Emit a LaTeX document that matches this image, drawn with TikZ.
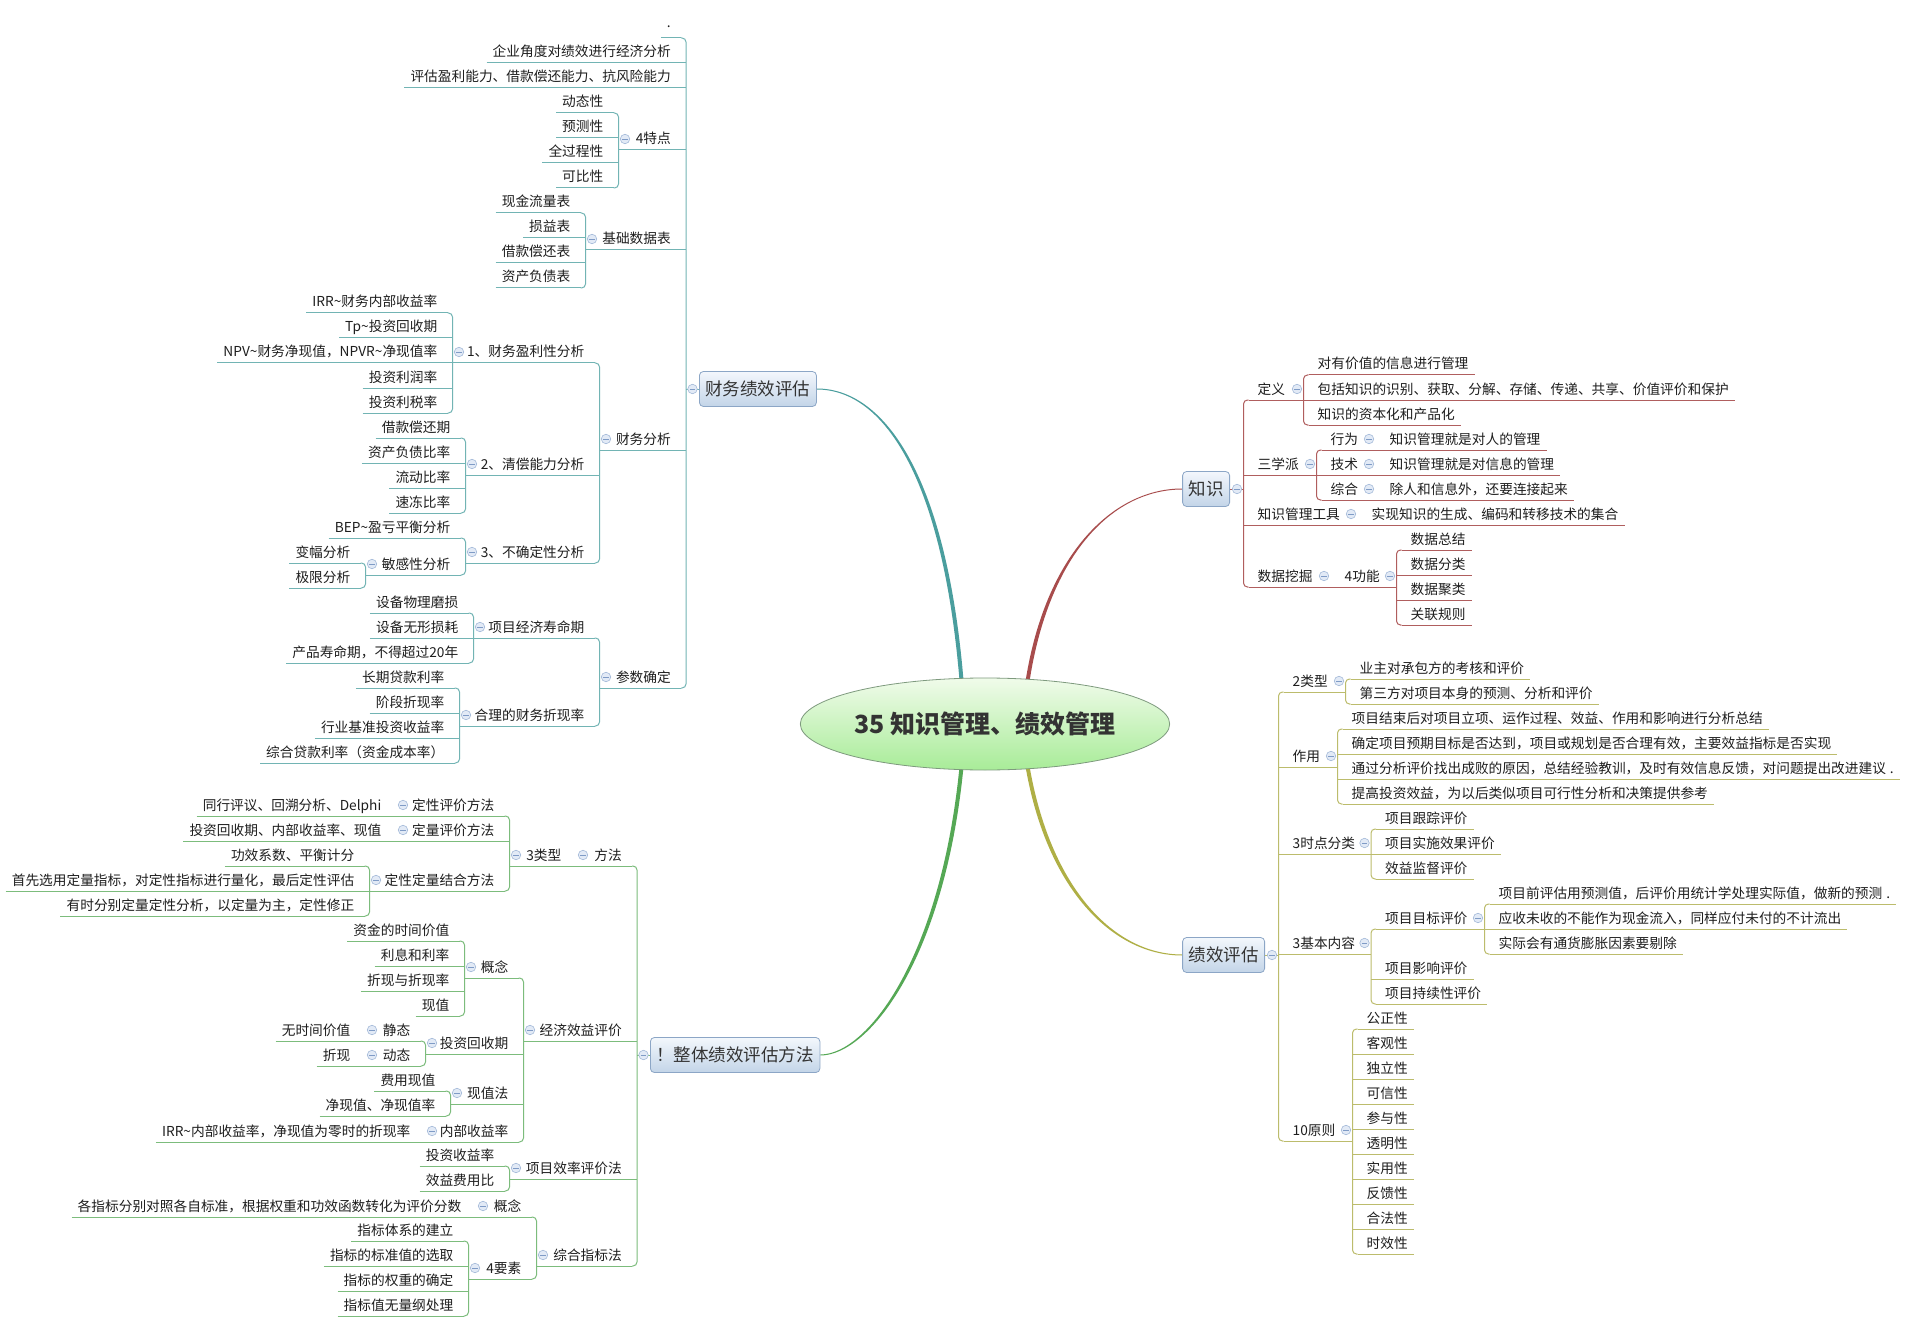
\documentclass[tikz,border=0pt]{standalone}
\usepackage{fontspec}
\setmainfont{Noto Sans CJK SC}
\usetikzlibrary{calc,shapes.geometric}
\pgfdeclarelayer{bg}
\pgfsetlayers{bg,main}
\definecolor{tealc}{HTML}{72B4B4}
\definecolor{greenc}{HTML}{7CBC7C}
\definecolor{redc}{HTML}{B05E5E}
\definecolor{olivec}{HTML}{BCBC6C}
\definecolor{cteal}{HTML}{4A9E9E}
\definecolor{cgreen}{HTML}{55A855}
\definecolor{cred}{HTML}{A84C4C}
\definecolor{colive}{HTML}{AFAF45}
\definecolor{dotb}{HTML}{A3B9D8}
\definecolor{dotf}{HTML}{E2EAF6}
\definecolor{dotm}{HTML}{7F9BC6}
\definecolor{boxd}{HTML}{8CA6C6}
\definecolor{boxt}{HTML}{F3F7FC}
\definecolor{boxb}{HTML}{C3D4E8}
\definecolor{rootd}{HTML}{7E9A7E}
\definecolor{roott}{HTML}{F0FBEA}
\definecolor{rootb}{HTML}{A8EC98}
\definecolor{rootx}{HTML}{333333}
\definecolor{txtc}{HTML}{1E1E1E}
\tikzset{
  txt/.style={inner sep=0pt, font=\fontsize{13.7}{14}\selectfont, text height=11.5pt, text depth=1.5pt, text=txtc},
  ln/.style={draw=black, line width=1pt},
  dot/.style={circle, draw=dotb, fill=dotf, line width=0.6pt, minimum size=9.5pt, inner sep=0pt,
    path picture={\draw[dotm,line width=0.9pt] ($(path picture bounding box.center)+(-2.6,0)$) -- ($(path picture bounding box.center)+(2.6,0)$);}},
  box/.style={rectangle, rounded corners=4pt, draw=boxd, line width=0.8pt, top color=boxt, bottom color=boxb,
    inner xsep=6pt, inner ysep=0pt, minimum height=35pt, font=\fontsize{17.5}{18}\selectfont, text=rootx},
  rootnode/.style={ellipse, draw=rootd, line width=0.8pt, top color=roott, bottom color=rootb,
    minimum width=326pt, minimum height=92pt, inner sep=0pt, font=\fontsize{25}{26}\selectfont\bfseries, text=rootx}
}
\newcommand\mmLL[5]{%
  \node[txt,anchor=east] (#1) at ({#2-15},#3) {#5};
  \draw[ln] ($(#1.west)+(-6,11)$) -- ({#2-#4},{#3+11});}
\newcommand\mmLP[6]{%
  \node[txt,anchor=east] (#1) at ({#2-15},#3) {#6};
  \draw[ln] (#5,{#3+11}) -- ({#2-#4},{#3+11});
  \node[dot] (#1c) at ({#5+6.5},#3) {};}
\newcommand\mmRL[5]{%
  \node[txt,anchor=west] (#1) at ({#2+14},#3) {#5};
  \draw[ln] ({#2+#4},{#3+11}) -- ($(#1.east)+(6,11)$);}
\newcommand\mmRP[6]{%
  \node[txt,anchor=west] (#1) at ({#2+14},#3) {#6};
  \draw[ln] ({#2+#4},{#3+11}) -- (#5,{#3+11});
  \node[dot] (#1c) at ({#5-6.5},#3) {};}
\newcommand\mmBL[3]{\draw[ln,rounded corners=4pt] ({#1-5},{#2+11}) -- (#1,{#2+11}) -- (#1,{#3+11}) -- ({#1-5},{#3+11});}
\newcommand\mmBR[3]{\draw[ln,rounded corners=4pt] ({#1+5},{#2+11}) -- (#1,{#2+11}) -- (#1,{#3+11}) -- ({#1+5},{#3+11});}
\begin{document}
\begin{tikzpicture}[x=1pt,y=-1pt]
\useasboundingbox (0,0) rectangle (1907,1332);
\begin{pgfonlayer}{bg}
\fill[white] (0,0) rectangle (1907,1332);
\end{pgfonlayer}

% ---------- centre and main boxes ----------
\node[rootnode] (root) at (985,724) {35 知识管理、绩效管理};
\node[box,anchor=west] (fin) at (699,389) {财务绩效评估};
\node[box,anchor=west] (whole) at (650,1055) {！整体绩效评估方法};
\node[box,anchor=east] (know) at (1230,489) {知识};
\node[box,anchor=east] (perf) at (1265,955) {绩效评估};

\begin{pgfonlayer}{bg}
\fill[cteal] (965,700) .. controls (950,478) and (885,388.5) .. ($(fin.east)+(0,-0.5)$) -- ($(fin.east)+(0,0.5)$) .. controls (885,389.5) and (946,481) .. (961,700) -- cycle;
\fill[cred] (1023,700) .. controls (1039,560) and (1110,488.5) .. ($(know.west)+(0,-0.5)$) -- ($(know.west)+(0,0.5)$) .. controls (1109,489.5) and (1043,561) .. (1027,700) -- cycle;
\fill[colive] (1023,750) .. controls (1041,884) and (1110,955.5) .. ($(perf.west)+(0,0.5)$) -- ($(perf.west)+(0,-0.5)$) .. controls (1111,954.5) and (1045,882) .. (1027,750) -- cycle;
\fill[cgreen] (965,750) .. controls (949,954) and (870,1055.5) .. ($(whole.east)+(0,0.5)$) -- ($(whole.east)+(0,-0.5)$) .. controls (869,1054.5) and (945,951) .. (961,750) -- cycle;
\end{pgfonlayer}

% ---------- 财务绩效评估 ----------
\begin{scope}[ln/.style={draw=tealc,line width=1pt}]
\draw[ln] (686,389) -- (fin.west);
\node[dot] (finc) at (692.5,389) {};
\mmBL{686}{27}{677}
\node[txt,anchor=east] (a0) at (671,23) {.};
\draw[ln] ($(a0.west)+(-6,15)$) -- (681,38);
\mmLL{a1}{686}{52}{0}{企业角度对绩效进行经济分析}
\mmLL{a2}{686}{77}{0}{评估盈利能力、借款偿还能力、抗风险能力}
\mmLP{a3}{686}{139}{0}{618.5}{4特点}
 \mmBL{618.5}{102}{177}
 \mmLL{a31}{618.5}{102}{5}{动态性}
 \mmLL{a32}{618.5}{127}{0}{预测性}
 \mmLL{a33}{618.5}{152}{0}{全过程性}
 \mmLL{a34}{618.5}{177}{5}{可比性}
\mmLP{a4}{686}{239}{0}{585.5}{基础数据表}
 \mmBL{585.5}{202}{277}
 \mmLL{a41}{585.5}{202}{5}{现金流量表}
 \mmLL{a42}{585.5}{227}{0}{损益表}
 \mmLL{a43}{585.5}{252}{0}{借款偿还表}
 \mmLL{a44}{585.5}{277}{5}{资产负债表}
\mmLP{a5}{686}{439}{0}{599.5}{财务分析}
 \mmBL{599.5}{352}{552}
 \mmLP{a51}{599.5}{352}{5}{452.5}{1、财务盈利性分析}
  \mmBL{452.5}{302}{402}
  \mmLL{a511}{452.5}{302}{5}{IRR\textasciitilde 财务内部收益率}
  \mmLL{a512}{452.5}{327}{0}{Tp\textasciitilde 投资回收期}
  \mmLL{a513}{452.5}{352}{0}{NPV\textasciitilde 财务净现值，NPVR\textasciitilde 净现值率}
  \mmLL{a514}{452.5}{377}{0}{投资利润率}
  \mmLL{a515}{452.5}{402}{5}{投资利税率}
 \mmLP{a52}{599.5}{464}{0}{465.5}{2、清偿能力分析}
  \mmBL{465.5}{427}{502}
  \mmLL{a521}{465.5}{427}{5}{借款偿还期}
  \mmLL{a522}{465.5}{452}{0}{资产负债比率}
  \mmLL{a523}{465.5}{477}{0}{流动比率}
  \mmLL{a524}{465.5}{502}{5}{速冻比率}
 \mmLP{a53}{599.5}{552}{5}{465.5}{3、不确定性分析}
  \mmBL{465.5}{527}{564}
  \mmLL{a531}{465.5}{527}{5}{BEP\textasciitilde 盈亏平衡分析}
  \mmLP{a532}{465.5}{564}{5}{365.5}{敏感性分析}
   \mmBL{365.5}{552}{577}
   \mmLL{a5321}{365.5}{552}{5}{变幅分析}
   \mmLL{a5322}{365.5}{577}{5}{极限分析}
\mmLP{a6}{686}{677}{5}{599.5}{参数确定}
 \mmBL{599.5}{627}{715}
 \mmLP{a61}{599.5}{627}{5}{473.5}{项目经济寿命期}
  \mmBL{473.5}{602}{652}
  \mmLL{a611}{473.5}{602}{5}{设备物理磨损}
  \mmLL{a612}{473.5}{627}{0}{设备无形损耗}
  \mmLL{a613}{473.5}{652}{5}{产品寿命期，不得超过20年}
 \mmLP{a62}{599.5}{715}{5}{459.5}{合理的财务折现率}
  \mmBL{459.5}{677}{752}
  \mmLL{a621}{459.5}{677}{5}{长期贷款利率}
  \mmLL{a622}{459.5}{702}{0}{阶段折现率}
  \mmLL{a623}{459.5}{727}{0}{行业基准投资收益率}
  \mmLL{a624}{459.5}{752}{5}{综合贷款利率（资金成本率）}
\end{scope}

% ---------- 整体绩效评估方法 ----------
\begin{scope}[ln/.style={draw=greenc,line width=1pt}]
\draw[ln] (637,1055) -- (whole.west);
\node[dot] (wholec) at (643.5,1055) {};
\mmBL{637}{855}{1255}
\mmLP{b1}{637}{855}{5}{576.5}{方法}
 \mmLP{b11}{576.5}{855}{0}{509.5}{3类型}
  \mmBL{509.5}{805}{880}
  \mmLP{b111}{509.5}{805}{5}{396.5}{定性评价方法}
   \mmLL{b1111}{396.5}{805}{0}{同行评议、回溯分析、Delphi}
  \mmLP{b112}{509.5}{830}{0}{396.5}{定量评价方法}
   \mmLL{b1121}{396.5}{830}{0}{投资回收期、内部收益率、现值}
  \mmLP{b113}{509.5}{880}{5}{369.5}{定性定量结合方法}
   \mmBL{369.5}{855}{905}
   \mmLL{b1131}{369.5}{855}{5}{功效系数、平衡计分}
   \mmLL{b1132}{369.5}{880}{0}{首先选用定量指标，对定性指标进行量化，最后定性评估}
   \mmLL{b1133}{369.5}{905}{5}{有时分别定量定性分析，以定量为主，定性修正}
\mmLP{b2}{637}{1030}{0}{523.5}{经济效益评价}
 \mmBL{523.5}{967}{1131}
 \mmLP{b21}{523.5}{967}{5}{464.5}{概念}
  \mmBL{464.5}{930}{1005}
  \mmLL{b211}{464.5}{930}{5}{资金的时间价值}
  \mmLL{b212}{464.5}{955}{0}{利息和利率}
  \mmLL{b213}{464.5}{980}{0}{折现与折现率}
  \mmLL{b214}{464.5}{1005}{5}{现值}
 \mmLP{b22}{523.5}{1043}{0}{425.5}{投资回收期}
  \mmBL{425.5}{1030}{1055}
  \mmLP{b221}{425.5}{1030}{5}{365.5}{静态}
   \mmLL{b2211}{365.5}{1030}{0}{无时间价值}
  \mmLP{b222}{425.5}{1055}{5}{365.5}{动态}
   \mmLL{b2221}{365.5}{1055}{0}{折现}
 \mmLP{b23}{523.5}{1093}{0}{450.5}{现值法}
  \mmBL{450.5}{1080}{1105}
  \mmLL{b231}{450.5}{1080}{5}{费用现值}
  \mmLL{b232}{450.5}{1105}{5}{净现值、净现值率}
 \mmLP{b24}{523.5}{1131}{5}{425.5}{内部收益率}
  \mmLL{b241}{425.5}{1131}{0}{IRR\textasciitilde 内部收益率，净现值为零时的折现率}
\mmLP{b3}{637}{1168}{0}{509.5}{项目效率评价法}
 \mmBL{509.5}{1155}{1180}
 \mmLL{b31}{509.5}{1155}{5}{投资收益率}
 \mmLL{b32}{509.5}{1180}{5}{效益费用比}
\mmLP{b4}{637}{1255}{5}{536.5}{综合指标法}
 \mmBL{536.5}{1206}{1268}
 \mmLP{b41}{536.5}{1206}{5}{476.5}{概念}
  \mmLL{b411}{476.5}{1206}{0}{各指标分别对照各自标准，根据权重和功效函数转化为评价分数}
 \mmLP{b42}{536.5}{1268}{5}{468.5}{4要素}
  \mmBL{468.5}{1230}{1305}
  \mmLL{b421}{468.5}{1230}{5}{指标体系的建立}
  \mmLL{b422}{468.5}{1255}{0}{指标的标准值的选取}
  \mmLL{b423}{468.5}{1280}{0}{指标的权重的确定}
  \mmLL{b424}{468.5}{1305}{5}{指标值无量纲处理}
\end{scope}

% ---------- 知识 ----------
\begin{scope}[ln/.style={draw=redc,line width=1pt}]
\draw[ln] (know.east) -- (1243.5,489);
\node[dot] (knowc) at (1237,489) {};
\mmBR{1243.5}{389}{576}
\mmRP{c1}{1243.5}{389}{5}{1303.5}{定义}
 \mmBR{1303.5}{364}{414}
 \mmRL{c11}{1303.5}{364}{5}{对有价值的信息进行管理}
 \mmRL{c12}{1303.5}{389}{0}{包括知识的识别、获取、分解、存储、传递、共享、价值评价和保护}
 \mmRL{c13}{1303.5}{414}{5}{知识的资本化和产品化}
\mmRP{c2}{1243.5}{464}{0}{1316.5}{三学派}
 \mmBR{1316.5}{439}{489}
 \mmRP{c21}{1316.5}{439}{5}{1375.5}{行为}
  \mmRL{c211}{1375.5}{439}{0}{知识管理就是对人的管理}
 \mmRP{c22}{1316.5}{464}{0}{1375.5}{技术}
  \mmRL{c221}{1375.5}{464}{0}{知识管理就是对信息的管理}
 \mmRP{c23}{1316.5}{489}{5}{1375.5}{综合}
  \mmRL{c231}{1375.5}{489}{0}{除人和信息外，还要连接起来}
\mmRP{c3}{1243.5}{514}{0}{1357.5}{知识管理工具}
 \mmRL{c31}{1357.5}{514}{0}{实现知识的生成、编码和转移技术的集合}
\mmRP{c4}{1243.5}{576}{5}{1330.5}{数据挖掘}
 \mmRP{c41}{1330.5}{576}{0}{1396.5}{4功能}
  \mmBR{1396.5}{539}{614}
  \mmRL{c411}{1396.5}{539}{5}{数据总结}
  \mmRL{c412}{1396.5}{564}{0}{数据分类}
  \mmRL{c413}{1396.5}{589}{0}{数据聚类}
  \mmRL{c414}{1396.5}{614}{5}{关联规则}
\end{scope}

% ---------- 绩效评估 ----------
\begin{scope}[ln/.style={draw=olivec,line width=1pt}]
\draw[ln] (perf.east) -- (1278.5,955);
\node[dot] (perfc) at (1272,955) {};
\mmBR{1278.5}{681}{1130}
\mmRP{d1}{1278.5}{681}{5}{1345.5}{2类型}
 \mmBR{1345.5}{668}{693}
 \mmRL{d11}{1345.5}{668}{5}{业主对承包方的考核和评价}
 \mmRL{d12}{1345.5}{693}{5}{第三方对项目本身的预测、分析和评价}
\mmRP{d2}{1278.5}{756}{0}{1337.5}{作用}
 \mmBR{1337.5}{718}{793}
 \mmRL{d21}{1337.5}{718}{5}{项目结束后对项目立项、运作过程、效益、作用和影响进行分析总结}
 \mmRL{d22}{1337.5}{743}{0}{确定项目预期目标是否达到，项目或规划是否合理有效，主要效益指标是否实现}
 \mmRL{d23}{1337.5}{768}{0}{通过分析评价找出成败的原因，总结经验教训，及时有效信息反馈，对问题提出改进建议\hspace{4pt}.}
 \mmRL{d24}{1337.5}{793}{5}{提高投资效益，为以后类似项目可行性分析和决策提供参考}
\mmRP{d3}{1278.5}{843}{0}{1371}{3时点分类}
 \mmBR{1371}{818}{868}
 \mmRL{d31}{1371}{818}{5}{项目跟踪评价}
 \mmRL{d32}{1371}{843}{0}{项目实施效果评价}
 \mmRL{d33}{1371}{868}{5}{效益监督评价}
\mmRP{d4}{1278.5}{943}{0}{1371}{3基本内容}
 \mmBR{1371}{918}{993}
 \mmRP{d41}{1371}{918}{5}{1484.5}{项目目标评价}
  \mmBR{1484.5}{893}{943}
  \mmRL{d411}{1484.5}{893}{5}{项目前评估用预测值，后评价用统计学处理实际值，做新的预测\hspace{4pt}.}
  \mmRL{d412}{1484.5}{918}{0}{应收未收的不能作为现金流入，同样应付未付的不计流出}
  \mmRL{d413}{1484.5}{943}{5}{实际会有通货膨胀因素要剔除}
 \mmRL{d42}{1371}{968}{0}{项目影响评价}
 \mmRL{d43}{1371}{993}{5}{项目持续性评价}
\mmRP{d5}{1278.5}{1130}{5}{1352.5}{10原则}
 \mmBR{1352.5}{1018}{1243}
 \mmRL{d51}{1352.5}{1018}{5}{公正性}
 \mmRL{d52}{1352.5}{1043}{0}{客观性}
 \mmRL{d53}{1352.5}{1068}{0}{独立性}
 \mmRL{d54}{1352.5}{1093}{0}{可信性}
 \mmRL{d55}{1352.5}{1118}{0}{参与性}
 \mmRL{d56}{1352.5}{1143}{0}{透明性}
 \mmRL{d57}{1352.5}{1168}{0}{实用性}
 \mmRL{d58}{1352.5}{1193}{0}{反馈性}
 \mmRL{d59}{1352.5}{1218}{0}{合法性}
 \mmRL{d510}{1352.5}{1243}{5}{时效性}
\end{scope}
\end{tikzpicture}
\end{document}
